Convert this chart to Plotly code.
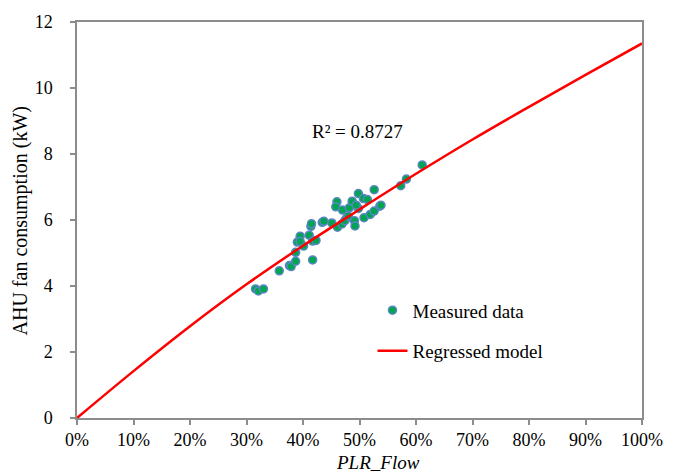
import plotly.graph_objects as go

# Measured AHU operating points: flow part-load ratio vs. fan power (kW)
plr_flow = [0.316, 0.321, 0.330, 0.358, 0.376, 0.379, 0.387, 0.417, 0.387, 0.401,
            0.390, 0.395, 0.411, 0.417, 0.423, 0.414, 0.415, 0.434, 0.437, 0.451,
            0.461, 0.469, 0.460, 0.458, 0.470, 0.482, 0.487, 0.477, 0.491, 0.492,
            0.498, 0.498, 0.507, 0.514, 0.526, 0.508, 0.519, 0.526, 0.536, 0.573,
            0.583, 0.611, 0.474, 0.480, 0.494, 0.538, 0.395]
fan_kw = [3.91, 3.85, 3.91, 4.46, 4.62, 4.59, 4.75, 4.79, 5.02, 5.21,
          5.33, 5.51, 5.54, 5.36, 5.38, 5.81, 5.89, 5.93, 5.96, 5.91,
          5.78, 5.88, 6.55, 6.40, 6.30, 6.37, 6.57, 6.06, 5.98, 5.82,
          6.80, 6.35, 6.65, 6.62, 6.92, 6.07, 6.17, 6.27, 6.42, 7.04,
          7.24, 7.67, 5.98, 6.12, 6.45, 6.45, 5.35]

# Regressed model evaluated over the full flow range
model_plr = [0.0, 0.1, 0.2, 0.3, 0.4, 0.5, 0.6, 0.7, 0.8, 0.9, 1.0]
model_kw = [0.0, 1.42, 2.78, 4.05, 5.22, 6.32, 7.40, 8.44, 9.43, 10.40, 11.35]

r_squared = "R\u00b2 = 0.8727"

serif = "Liberation Serif"
axis_grey = "#8c8c8c"

fig = go.Figure()

fig.add_trace(go.Scatter(
    x=plr_flow, y=fan_kw, mode="markers", name="Measured data",
    legendgroup="a", legendrank=1,
    marker=dict(size=8, color="#00a551", line=dict(color="#5b86c4", width=1.5)),
))

fig.add_trace(go.Scatter(
    x=model_plr, y=model_kw, mode="lines", name="Regressed model",
    legendgroup="b", legendrank=2,
    line=dict(color="#ff0000", width=2.5, shape="spline"),
))

fig.update_xaxes(
    range=[0, 1], dtick=0.1, tickformat=".0%",
    showgrid=False, zeroline=False,
    showline=True, linecolor=axis_grey, linewidth=1.5, mirror=True,
    ticks="outside", ticklen=5, tickwidth=1.5, tickcolor=axis_grey,
    tickfont=dict(family=serif, size=18, color="#000"),
)
fig.update_yaxes(
    range=[0, 12], dtick=2,
    showgrid=False, zeroline=False,
    showline=True, linecolor=axis_grey, linewidth=1.5, mirror=True,
    ticks="outside", ticklen=5, tickwidth=1.5, tickcolor=axis_grey,
    ticklabelstandoff=14,
    tickfont=dict(family=serif, size=18, color="#000"),
)

fig.update_layout(
    width=683, height=475,
    margin=dict(l=77, r=41, t=13, b=57),
    paper_bgcolor="white", plot_bgcolor="white",
    font=dict(family=serif, size=18, color="#000"),
    showlegend=True,
    legend=dict(
        x=0.523, y=0.32, xanchor="left", yanchor="top",
        bgcolor="rgba(0,0,0,0)", traceorder="grouped", tracegroupgap=13,
        font=dict(family=serif, size=19, color="#000"),
    ),
    annotations=[
        dict(text=r_squared, xref="paper", yref="paper",
             x=(357.5 - 77) / 565, y=(418 - 125) / 405,
             xanchor="center", yanchor="middle", showarrow=False,
             font=dict(family=serif, size=19, color="#000")),
        dict(text="<i>PLR_Flow</i>", xref="paper", yref="paper",
             x=(378 - 77) / 565, y=(418 - 463) / 405,
             xanchor="center", yanchor="middle", showarrow=False,
             font=dict(family=serif, size=19, color="#000")),
        dict(text="AHU fan consumption (kW)", xref="paper", yref="paper",
             x=(20 - 77) / 565, y=(418 - 217) / 405, textangle=-90,
             xanchor="center", yanchor="middle", showarrow=False,
             font=dict(family=serif, size=20, color="#000")),
    ],
)

fig.write_html("out.html")
